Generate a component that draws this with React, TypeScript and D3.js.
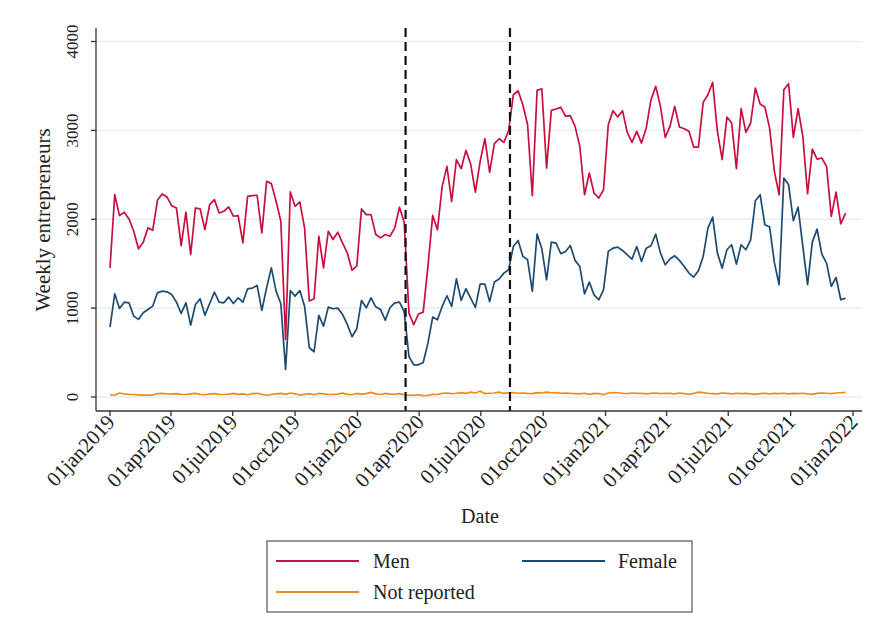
import React from "react";
import * as d3 from "d3";

// Weekly counts, first week starting 01jan2019
const startDate = new Date(2019, 0, 1);

const men = [
  1453, 2277, 2041, 2079, 2004, 1865, 1667, 1742, 1903, 1876,
  2213, 2285, 2251, 2153, 2127, 1704, 2079, 1603, 2127, 2116,
  1884, 2165, 2221, 2071, 2090, 2139, 2034, 2041, 1734, 2258,
  2266, 2270, 1846, 2427, 2401, 2202, 1978, 648, 2307, 2146,
  2195, 1903, 1079, 1105, 1809, 1453, 1865, 1772, 1854, 1734,
  1622, 1427, 1472, 2116, 2052, 2052, 1828, 1790, 1828, 1809,
  1903, 2135, 1965, 944, 813, 933, 955, 1469, 2043, 1882,
  2370, 2595, 2201, 2670, 2569, 2775, 2621, 2306, 2651, 2906,
  2527, 2850, 2906, 2865, 2996, 3401, 3446, 3289, 3064, 2265,
  3450, 3469, 2576, 3225, 3240, 3259, 3158, 3165, 3045, 2820,
  2276, 2520, 2295, 2238, 2332, 3064, 3221, 3150, 3221, 2977,
  2865, 2989, 2857, 3026, 3345, 3495, 3270, 2921, 3045, 3270,
  3038, 3019, 2989, 2812, 2812, 3315, 3401, 3540, 2989, 2670,
  3150, 3083, 2569, 3244, 2977, 3083, 3476, 3296, 3263, 3026,
  2539, 2276, 3458, 3525, 2921, 3244, 2932, 2287, 2790, 2677,
  2689, 2595, 2032, 2306, 1949, 2069,
];

const female = [
  787, 1161, 996, 1067, 1060, 910, 873, 948, 985, 1022,
  1172, 1191, 1183, 1154, 1067, 940, 1060, 809, 1041, 1105,
  921, 1052, 1180, 1067, 1060, 1124, 1052, 1116, 1067, 1217,
  1225, 1255, 974, 1228, 1453, 1191, 1049, 311, 1198, 1135,
  1198, 1022, 554, 509, 918, 798, 1011, 993, 1000, 929,
  817, 678, 768, 1086, 1004, 1116, 1015, 985, 865, 1004,
  1060, 1067, 960, 456, 362, 362, 389, 606, 899, 869,
  1019, 1139, 1019, 1330, 1087, 1218, 1113, 1008, 1270, 1270,
  1075, 1293, 1327, 1394, 1432, 1694, 1762, 1582, 1544, 1188,
  1833, 1668, 1319, 1743, 1732, 1612, 1638, 1705, 1537, 1469,
  1161, 1293, 1150, 1094, 1206, 1638, 1675, 1687, 1649, 1600,
  1552, 1694, 1525, 1675, 1702, 1833, 1619, 1488, 1552, 1589,
  1537, 1469, 1394, 1349, 1420, 1582, 1900, 2024, 1619, 1450,
  1657, 1713, 1495, 1713, 1657, 1769, 2208, 2276, 1938, 1912,
  1514, 1263, 2463, 2388, 1983, 2137, 1694, 1263, 1743, 1889,
  1608, 1507, 1244, 1345, 1094, 1113,
];

const notReported = [
  25, 20, 45, 35, 30, 28, 25, 22, 20, 22, 38, 40, 35,
  32, 38, 30, 28, 35, 40, 30, 25, 35, 38, 30, 28, 32,
  40, 30, 35, 25, 38, 42, 30, 20, 28, 35, 40, 30, 45,
  35, 22, 30, 38, 25, 40, 35, 28, 30, 32, 45, 30, 25,
  40, 30, 38, 52, 35, 28, 40, 32, 30, 38, 25, 20, 18,
  25, 15, 20, 30, 28, 40, 45, 38, 42, 50, 40, 55, 45,
  65, 38, 42, 45, 55, 40, 48, 50, 42, 45, 40, 38, 50,
  45, 55, 48, 50, 42, 45, 40, 38, 35, 42, 30, 40, 38,
  25, 45, 50, 48, 42, 38, 45, 40, 42, 35, 40, 45, 38,
  42, 40, 35, 45, 38, 30, 40, 55, 50, 42, 38, 35, 45,
  40, 35, 42, 38, 40, 35, 30, 38, 42, 35, 40, 38, 42,
  35, 40, 38, 42, 35, 30, 40, 45, 42, 38, 45, 48, 52,
];

const yTicks = [0, 1000, 2000, 3000, 4000];
const xTickDates = [
  "2019-01-01", "2019-04-01", "2019-07-01", "2019-10-01",
  "2020-01-01", "2020-04-01", "2020-07-01", "2020-10-01",
  "2021-01-01", "2021-04-01", "2021-07-01", "2021-10-01",
  "2022-01-01",
];
const markerDates = ["2020-03-12", "2020-08-13"];

const seriesNames = ["Men", "Female", "Not reported"];
const seriesColors = ["#c8103e", "#1d4a72", "#ee8a1c"];

const parse = d3.timeParse("%Y-%m-%d");
const fmt = d3.timeFormat("%d%b%Y");

const W = 871;
const H = 637;
const FONT = "'Liberation Serif', 'DejaVu Serif', serif";

export default function App() {
  const x = d3
    .scaleTime()
    .domain([parse("2019-01-01") as Date, parse("2022-01-01") as Date])
    .range([110, 853]);
  const y = d3.scaleLinear().domain([0, 4000]).range([397, 41.5]);

  const axisLeft = 96;
  const axisRight = 862;
  const axisBottom = 411;
  const axisTop = 28;

  const dates = men.map((_, i) => d3.timeDay.offset(startDate, 7 * i));
  const series = [men, female, notReported];

  const line = d3
    .line<number>()
    .x((_, i) => x(dates[i]))
    .y((d) => y(d));

  const legendX = 267;
  const legendY = 541;

  return (
    <svg
      width={W}
      height={H}
      style={{ position: "absolute", left: 0, top: 0, background: "#fff" }}
      fontFamily={FONT}
    >
      <rect x={0} y={0} width={W} height={H} fill="#fff" />

      {/* horizontal grid */}
      {yTicks.map((t) => (
        <line
          key={`g${t}`}
          x1={axisLeft}
          x2={axisRight}
          y1={y(t)}
          y2={y(t)}
          stroke="#e6eef1"
          strokeWidth={1.5}
        />
      ))}

      {/* series */}
      {[2, 1, 0].map((k) => (
        <path
          key={seriesNames[k]}
          d={line(series[k]) || ""}
          fill="none"
          stroke={seriesColors[k]}
          strokeWidth={1.7}
          strokeLinejoin="round"
        />
      ))}

      {/* event markers */}
      {markerDates.map((d) => {
        const xx = x(parse(d) as Date);
        return (
          <line
            key={d}
            x1={xx}
            x2={xx}
            y1={axisTop}
            y2={axisBottom}
            stroke="#111"
            strokeWidth={2.2}
            strokeDasharray="9,5"
          />
        );
      })}

      {/* y axis */}
      <line x1={axisLeft} x2={axisLeft} y1={axisTop} y2={axisBottom} stroke="#333" strokeWidth={1.3} />
      {yTicks.map((t) => (
        <g key={`yt${t}`}>
          <line x1={axisLeft - 5} x2={axisLeft} y1={y(t)} y2={y(t)} stroke="#333" strokeWidth={1.3} />
          <text
            transform={`translate(78,${y(t)}) rotate(-90)`}
            textAnchor="middle"
            fontSize={17}
            fill="#222"
          >
            {t}
          </text>
        </g>
      ))}
      <text
        transform={`translate(50,220) rotate(-90)`}
        textAnchor="middle"
        fontSize={21}
        fill="#222"
      >
        Weekly entrepreneurs
      </text>

      {/* x axis */}
      <line x1={axisLeft} x2={axisRight} y1={axisBottom} y2={axisBottom} stroke="#333" strokeWidth={1.3} />
      {xTickDates.map((d) => {
        const dt = parse(d) as Date;
        const xx = x(dt);
        return (
          <g key={d}>
            <line x1={xx} x2={xx} y1={axisBottom} y2={axisBottom + 5} stroke="#333" strokeWidth={1.3} />
            <text
              transform={`translate(${xx + 6},${axisBottom + 12}) rotate(-47)`}
              textAnchor="end"
              fontSize={21}
              fill="#222"
            >
              {fmt(dt).toLowerCase()}
            </text>
          </g>
        );
      })}
      <text x={480} y={523} textAnchor="middle" fontSize={20} fill="#222">
        Date
      </text>

      {/* legend */}
      <rect
        x={legendX}
        y={legendY}
        width={425}
        height={71}
        fill="#fff"
        stroke="#555"
        strokeWidth={1.2}
      />
      {[
        { k: 0, lx: 276, tx: 373, ly: 561 },
        { k: 1, lx: 522, tx: 618, ly: 561 },
        { k: 2, lx: 276, tx: 373, ly: 592 },
      ].map(({ k, lx, tx, ly }) => (
        <g key={`lg${k}`}>
          <line x1={lx} x2={lx + 83} y1={ly} y2={ly} stroke={seriesColors[k]} strokeWidth={2} />
          <text x={tx} y={ly + 7} fontSize={20} fill="#222">
            {seriesNames[k]}
          </text>
        </g>
      ))}
    </svg>
  );
}
